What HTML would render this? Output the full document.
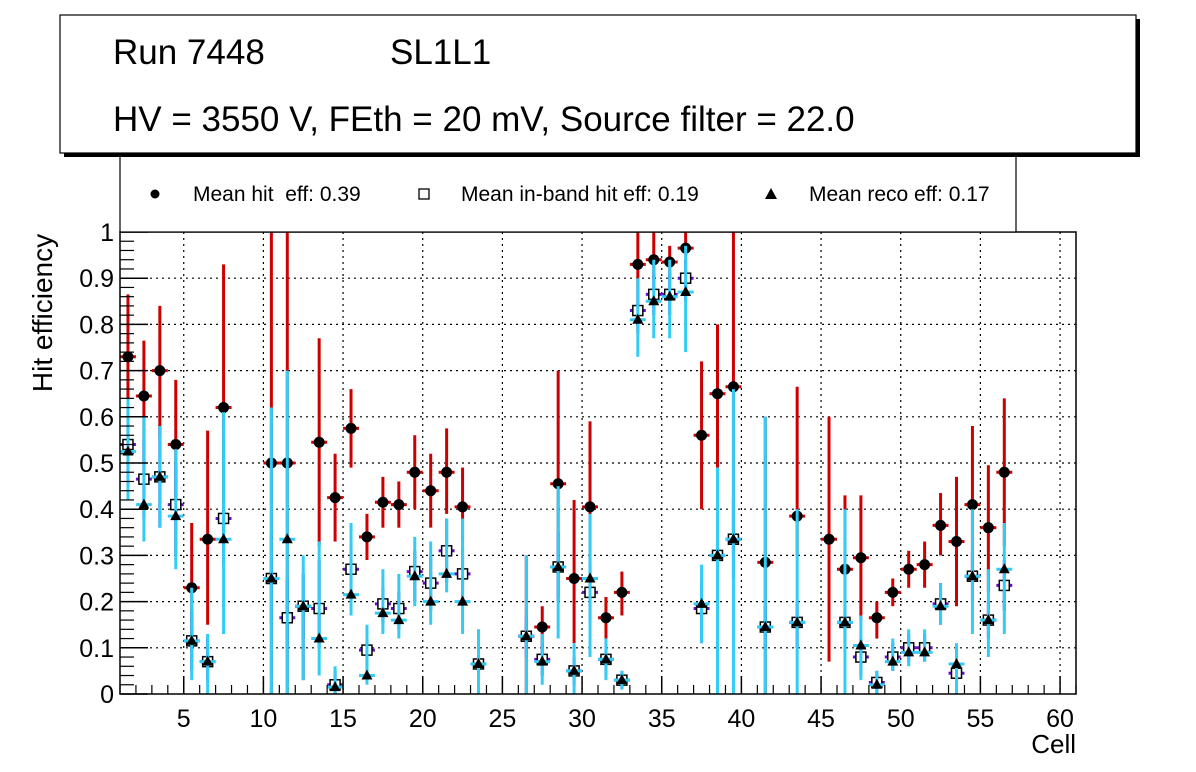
<!DOCTYPE html>
<html><head><meta charset="utf-8"><style>
html,body{margin:0;padding:0;background:#fff;}
svg{display:block;font-family:"Liberation Sans",sans-serif;}
</style></head><body>
<svg id="c" width="1196" height="772" xmlns="http://www.w3.org/2000/svg">
<rect x="0" y="0" width="1196" height="772" fill="#fff"/>
<g id="grid"></g>
<g id="marks"></g>
<g id="axes"></g>
<rect x="120" y="232" width="956" height="462" fill="none" stroke="#000" stroke-width="1.5"/>
<text x="52" y="313" font-size="28" text-anchor="middle" transform="rotate(-90 52 313)">Hit efficiency</text>
<text x="1076" y="753" font-size="26" text-anchor="end">Cell</text>
<g>
<rect x="120" y="150" width="896" height="82" fill="#fff" stroke="#000" stroke-width="1.2"/>
<circle cx="155" cy="194" r="4.5" fill="#000"/>
<text x="193" y="201" font-size="21" xml:space="preserve">Mean hit  eff: 0.39</text>
<rect x="419" y="189" width="10" height="10" fill="#fff" stroke="#000" stroke-width="1.3"/>
<text x="461" y="201" font-size="21">Mean in-band hit eff: 0.19</text>
<polygon points="771,188 777,199 765,199" fill="#000"/>
<text x="809" y="201" font-size="21">Mean reco eff: 0.17</text>
</g>
<g>
<rect x="64" y="19" width="1076" height="138" fill="#000"/>
<rect x="60" y="15" width="1076" height="138" fill="#fff" stroke="#000" stroke-width="1.2"/>
<text x="113" y="64" font-size="35">Run 7448</text>
<text x="390" y="64" font-size="35">SL1L1</text>
<text x="113" y="131" font-size="35">HV = 3550 V, FEth = 20 mV, Source filter = 22.0</text>
</g>
</svg>
<script>
const cells=[1,2,3,4,5,6,7,10,11,12,13,14,15,16,17,18,19,20,21,22,23,26,27,28,29,30,31,32,33,34,35,36,37,38,39,41,43,45,46,47,48,49,50,51,52,53,54,55,56];
const hitEff=[0.73,0.645,0.70,0.54,0.23,0.335,0.62,0.5,0.5,0.19,0.545,0.425,0.575,0.34,0.415,0.41,0.48,0.44,0.48,0.405,0.065,0.125,0.145,0.455,0.25,0.405,0.165,0.22,0.93,0.94,0.935,0.965,0.56,0.65,0.665,0.285,0.385,0.335,0.27,0.295,0.165,0.22,0.27,0.28,0.365,0.33,0.41,0.36,0.48];
const hitLo=[0.64,0.5,0.56,0.4,0.1,0.15,0.33,0,0,0.03,0.32,0.33,0.49,0.29,0.36,0.36,0.4,0.36,0.39,0.33,0,0,0.1,0.21,0.11,0.22,0.12,0.17,0.88,0.9,0.9,0.95,0.4,0.49,0.3,0,0.3,0.07,0.11,0.16,0.12,0.19,0.23,0.23,0.3,0.19,0.25,0.22,0.32];
const hitHi=[0.865,0.765,0.84,0.68,0.37,0.57,0.93,1,1,0.19,0.77,0.52,0.66,0.39,0.47,0.46,0.56,0.52,0.575,0.49,0.14,0.3,0.19,0.7,0.42,0.59,0.21,0.265,1,1,0.97,1,0.72,0.8,1,0.6,0.665,0.6,0.43,0.43,0.2,0.25,0.31,0.33,0.435,0.47,0.58,0.495,0.64];
const inbandEff=[0.54,0.465,0.47,0.41,0.115,0.07,0.38,0.25,0.165,0.19,0.185,0.02,0.27,0.095,0.195,0.185,0.265,0.24,0.31,0.26,0.065,0.125,0.075,0.275,0.05,0.22,0.075,0.03,0.83,0.865,0.865,0.9,0.185,0.30,0.335,0.145,0.155,null,0.155,0.08,0.025,0.08,0.1,0.1,0.195,0.045,0.255,0.16,0.235];
const inbandLo=[0.45,0.38,0.36,0.3,0.05,0.03,0.28,0.15,0.1,0.12,0.1,0.0,0.2,0.06,0.15,0.14,0.2,0.18,0.24,0.2,0.03,0.08,0.04,0.2,0.02,0.16,0.04,0.01,0.78,0.82,0.82,0.85,0.11,0.22,0.25,0.1,0.1,null,0.1,0.04,0.0,0.05,0.07,0.07,0.15,0.02,0.2,0.12,0.18];
const inbandHi=[0.62,0.55,0.58,0.5,0.18,0.12,0.55,0.35,0.25,0.26,0.29,0.05,0.32,0.12,0.23,0.22,0.31,0.3,0.38,0.32,0.1,0.17,0.11,0.35,0.08,0.28,0.11,0.05,0.88,0.91,0.91,0.94,0.24,0.38,0.42,0.19,0.2,null,0.2,0.12,0.05,0.11,0.13,0.13,0.24,0.1,0.31,0.2,0.29];
const recoEff=[0.525,0.41,0.47,0.385,0.115,0.07,0.335,0.25,0.335,0.19,0.12,0.015,0.215,0.04,0.175,0.16,0.255,0.2,0.26,0.2,0.065,0.125,0.07,0.275,0.05,0.25,0.075,0.03,0.81,0.85,0.86,0.87,0.195,0.30,0.335,0.145,0.155,null,0.155,0.105,0.02,0.07,0.09,0.09,0.19,0.065,0.255,0.16,0.27];
const recoLo=[0.42,0.33,0.36,0.27,0.03,0,0.13,0,0,0.03,0.04,0,0.17,0.02,0.13,0.12,0.19,0.15,0.22,0.13,0,0,0.02,0.12,0,0.08,0.03,0.01,0.73,0.77,0.77,0.74,0.11,0,0,0,0,null,0,0.03,0,0.05,0.06,0.07,0.15,0,0.13,0.08,0.13];
const recoHi=[0.64,0.6,0.58,0.53,0.23,0.13,0.61,0.62,0.7,0.3,0.33,0.06,0.37,0.15,0.27,0.26,0.34,0.33,0.38,0.38,0.14,0.3,0.13,0.45,0.11,0.39,0.12,0.05,0.9,0.94,0.94,0.97,0.28,0.49,0.66,0.6,0.4,null,0.4,0.17,0.05,0.12,0.14,0.14,0.24,0.11,0.4,0.27,0.37];
const xTicks=[5,10,15,20,25,30,35,40,45,50,55,60];
const yTicks=[0,0.1,0.2,0.3,0.4,0.5,0.6,0.7,0.8,0.9,1];
const yTickLabels=["0","0.1","0.2","0.3","0.4","0.5","0.6","0.7","0.8","0.9","1"];

const NS="http://www.w3.org/2000/svg";
const X0=120,X1=1076,Y0=694,Y1=232,XMIN=1,XMAX=61;
function sx(v){return X0+(v-XMIN)/(XMAX-XMIN)*(X1-X0);}
function sy(v){return Y0-v*(Y0-Y1);}
function mk(tag,attrs,parent){const e=document.createElementNS(NS,tag);for(const k in attrs)e.setAttribute(k,attrs[k]);parent.appendChild(e);return e;}
const grid=document.getElementById('grid'),axes=document.getElementById('axes'),marks=document.getElementById('marks');

xTicks.forEach(t=>{
  const l=mk('line',{x1:sx(t),x2:sx(t),y1:Y1,y2:Y0,stroke:'#000','stroke-width':1.2,'stroke-dasharray':'2,4'},grid);
  
  
  const tk=mk('line',{x1:sx(t),x2:sx(t),y1:Y0,y2:Y0-18,stroke:'#000','stroke-width':1.5},axes);
  
  
  const tx=mk('text',{x:sx(t),y:727,'font-size':25,'text-anchor':'middle'},axes);
  tx.textContent=String(t);
  
  
});
for(let v=XMIN;v<=XMAX;v++){
  if(v%5===0)continue;
  const tk=mk('line',{x1:sx(v),x2:sx(v),y1:Y0,y2:Y0-9,stroke:'#000','stroke-width':1.2},axes);
  
  
}
yTicks.forEach((t,i)=>{
  if(t>0&&t<1){
    const l=mk('line',{x1:X0,x2:X1,y1:sy(t),y2:sy(t),stroke:'#000','stroke-width':1.2,'stroke-dasharray':'2,4'},grid);
    
    
  }
  const tk=mk('line',{x1:X0,x2:X0+28,y1:sy(t),y2:sy(t),stroke:'#000','stroke-width':1.5},axes);
  
  
  const tx=mk('text',{x:114,y:sy(t)+9,'font-size':25,'text-anchor':'end'},axes);
  tx.textContent=yTickLabels[i];
  
  
});
for(let k=1;k<50;k++){
  if(k%5===0)continue;
  const tk=mk('line',{x1:X0,x2:X0+14,y1:sy(k/50),y2:sy(k/50),stroke:'#000','stroke-width':1.2},axes);
  
  
}
function clip(v){return Math.max(0,Math.min(1,v));}
function errs(vals,lo,hi,color,name){
  cells.forEach((c,i)=>{
    if(vals[i]==null)return;
    const x=sx(c+0.5);
    const v=mk('line',{x1:x,x2:x,y1:sy(clip(lo[i])),y2:sy(clip(hi[i])),stroke:color,'stroke-width':3},marks);
    
    
    const h=mk('line',{x1:sx(c),x2:sx(c+1),y1:sy(vals[i]),y2:sy(vals[i]),stroke:color,'stroke-width':3},marks);
    
    
  });
}
errs(hitEff,hitLo,hitHi,'#cc0000','hit');
cells.forEach((c,i)=>{
  const p=mk('circle',{cx:sx(c+0.5),cy:sy(hitEff[i]),r:5.5,fill:'#000'},marks);
  
  
});
errs(inbandEff,inbandLo,inbandHi,'#6a0dcc','inband');
cells.forEach((c,i)=>{
  if(inbandEff[i]==null)return;
  const x=sx(c+0.5),y=sy(inbandEff[i]);
  const p=mk('rect',{x:x-5,y:y-5,width:10,height:10,fill:'#fff',stroke:'#000','stroke-width':1.5},marks);
  
  
});
errs(recoEff,recoLo,recoHi,'#33ccf5','reco');
cells.forEach((c,i)=>{
  if(recoEff[i]==null)return;
  const x=sx(c+0.5),y=sy(recoEff[i]);
  const p=mk('polygon',{points:`${x},${y-6} ${x+5.5},${y+4} ${x-5.5},${y+4}`,fill:'#000'},marks);
  
  
});
</script>
</body></html>
